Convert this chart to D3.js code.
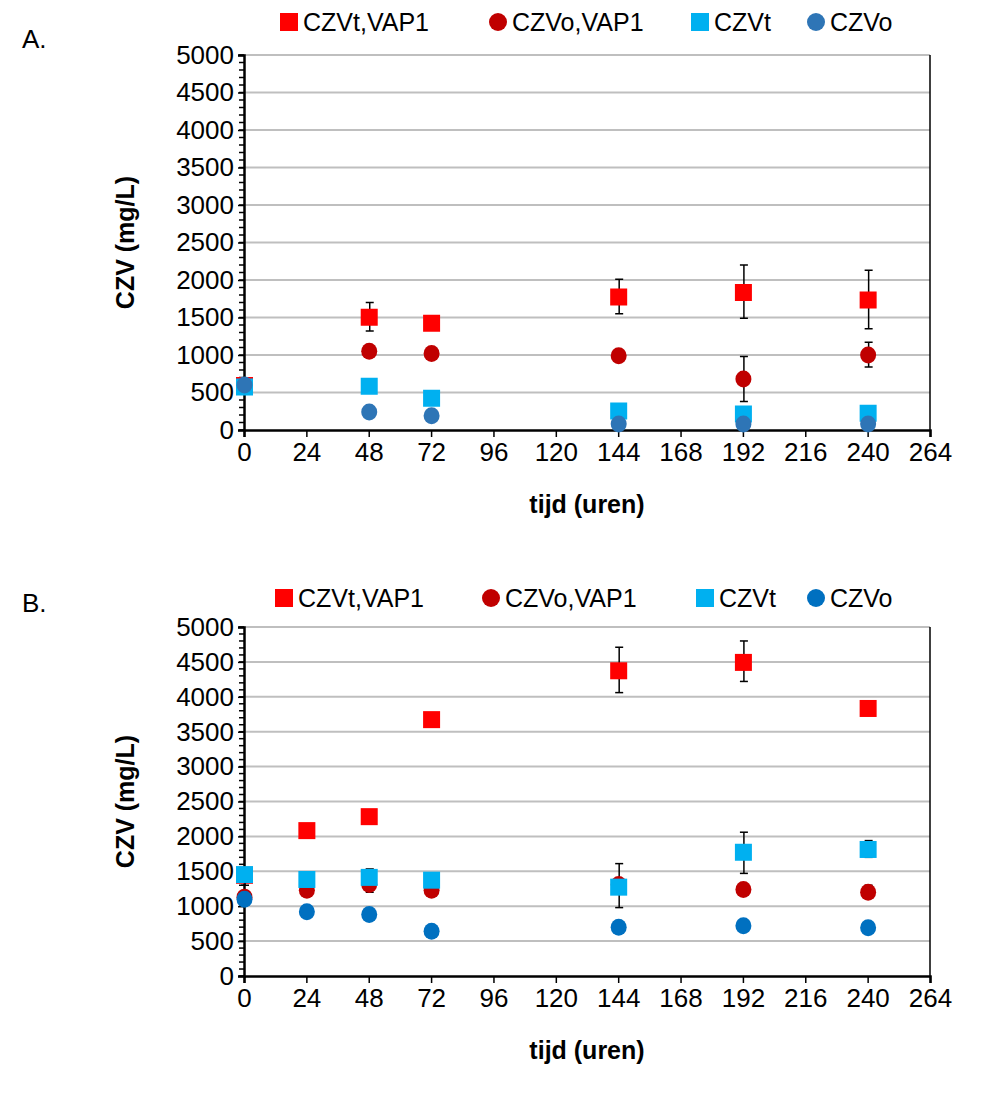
<!DOCTYPE html>
<html><head><meta charset="utf-8">
<script src="https://cdn.jsdelivr.net/npm/d3@7"></script>
<style>body{margin:0;background:#fff}text{font-family:"Liberation Sans",Arial,sans-serif}</style>
</head><body><div id="chart"></div>
<script>
var hours = [0, 24, 48, 72, 144, 192, 240];
var xTicks = d3.range(0, 265, 24);
var yTicks = d3.range(0, 5001, 500);
var seriesNames = ["CZVt,VAP1", "CZVo,VAP1", "CZVt", "CZVo"];

// panel A: [hour, value, errLow, errHigh]
var aTvap = [[0, 600], [48, 1510, 1320, 1700], [72, 1430], [144, 1780, 1550, 2010], [192, 1840, 1490, 2200], [240, 1740, 1350, 2130]];
var aOvap = [[0, 590], [48, 1050], [72, 1020], [144, 990], [192, 680, 380, 980], [240, 1000, 840, 1170]];
var aT = [[0, 580], [48, 590], [72, 430], [144, 260], [192, 220], [240, 230]];
var aO = [[0, 600], [48, 240], [72, 190], [144, 80], [192, 80], [240, 80]];

// panel B
var bTvap = [[0, 1450], [24, 2090], [48, 2290, 2190, 2380], [72, 3680], [144, 4380, 4060, 4710], [192, 4500, 4220, 4800], [240, 3840, 3780, 3940]];
var bOvap = [[0, 1130], [24, 1230], [48, 1310, 1200, 1530], [72, 1230], [144, 1310, 980, 1610], [192, 1240], [240, 1200, 1120, 1300]];
var bT = [[0, 1460, 1300, 1520], [24, 1390], [48, 1420, 1400, 1530], [72, 1380], [144, 1280], [192, 1780, 1470, 2060], [240, 1820, 1700, 1940]];
var bO = [[0, 1100], [24, 920], [48, 880], [72, 640], [144, 700], [192, 720], [240, 690]];

var svg = d3.select("#chart").append("svg").attr("width", 1002).attr("height", 1096);

function panel(cfg) {
  var x = d3.scaleLinear().domain([0, 264]).range([244, 930]);
  var y = d3.scaleLinear().domain([0, 5000]).range([cfg.bottom, cfg.top]);
  var g = svg.append("g");
  g.selectAll(".grid").data(yTicks.slice(1)).enter().append("line")
    .attr("x1", 244).attr("x2", 930).attr("y1", y).attr("y2", y)
    .attr("stroke", "#bfbfbf").attr("stroke-width", 2);
  g.append("line").attr("x1", 930).attr("x2", 930).attr("y1", cfg.top).attr("y2", cfg.bottom).attr("stroke", "#000").attr("stroke-width", 1.5);
  // minor y ticks
  g.selectAll(".minor").data(d3.range(0, 5001, 100)).enter().append("line")
    .attr("x1", 239).attr("x2", 244).attr("y1", y).attr("y2", y).attr("stroke", "#000").attr("stroke-width", 1.5);
  var ya = g.append("g").attr("transform", "translate(244,0)")
    .call(d3.axisLeft(y).tickValues(yTicks).tickFormat(d3.format("d")).tickSize(6).tickPadding(4));
  var xa = g.append("g").attr("transform", "translate(0," + cfg.bottom + ")")
    .call(d3.axisBottom(x).tickValues(xTicks).tickFormat(d3.format("d")).tickSize(7).tickPadding(6));
  [ya, xa].forEach(function (a) {
    a.select(".domain").attr("stroke-width", 2.5);
    a.selectAll("line").attr("stroke-width", 1.5);
    a.selectAll("text").attr("font-size", 26).attr("fill", "#000");
  });
  g.append("text").attr("transform", "translate(134," + (cfg.top + cfg.bottom) / 2 + ") rotate(-90)")
    .attr("text-anchor", "middle").attr("font-size", 25).attr("font-weight", "bold").text("CZV (mg/L)");
  g.append("text").attr("x", 587).attr("y", cfg.bottom + 83).attr("text-anchor", "middle")
    .attr("font-size", 25).attr("font-weight", "bold").text("tijd (uren)");
  g.append("text").attr("x", 22).attr("y", cfg.labelY).attr("font-size", 26).text(cfg.label);

  cfg.series.forEach(function (s) {
    var sg = g.append("g");
    sg.selectAll(".err").data(s.data.filter(function (d) { return d.length > 2; })).enter().append("g").each(function (d) {
      var e = d3.select(this), cx = x(d[0]) + 1;
      e.append("line").attr("x1", cx).attr("x2", cx).attr("y1", y(d[2])).attr("y2", y(d[3])).attr("stroke", "#000").attr("stroke-width", 1.5);
      [d[2], d[3]].forEach(function (v) {
        e.append("line").attr("x1", cx - 4).attr("x2", cx + 4).attr("y1", y(v)).attr("y2", y(v)).attr("stroke", "#000").attr("stroke-width", 1.5);
      });
    });
    sg.selectAll(".m").data(s.data).enter().append(s.shape === "sq" ? "rect" : "ellipse").each(function (d) {
      var m = d3.select(this).attr("fill", s.color);
      if (s.shape === "sq") m.attr("x", x(d[0]) - 8).attr("y", y(d[1]) - 8).attr("width", 17).attr("height", 17);
      else m.attr("cx", x(d[0]) + 0.5).attr("cy", y(d[1])).attr("rx", 8).attr("ry", 8.5);
    });
  });

  cfg.series.forEach(function (s, i) {
    var lx = cfg.legendX[i], ly = cfg.legendY;
    if (s.shape === "sq") g.append("rect").attr("x", lx - 9).attr("y", ly - 9).attr("width", 18).attr("height", 18).attr("fill", s.color);
    else g.append("circle").attr("cx", lx).attr("cy", ly).attr("r", 9).attr("fill", s.color);
    g.append("text").attr("x", lx + 14).attr("y", ly + 9).attr("font-size", 25).text(seriesNames[i]);
  });
}

panel({ top: 55, bottom: 430, label: "A.", labelY: 48, legendY: 22, legendX: [289, 498, 700, 816],
  series: [
    { data: aTvap, shape: "sq", color: "#ff0000" },
    { data: aOvap, shape: "ci", color: "#c00000" },
    { data: aT, shape: "sq", color: "#00b0f0" },
    { data: aO, shape: "ci", color: "#2e75b6" }
  ] });
panel({ top: 627, bottom: 976, label: "B.", labelY: 612, legendY: 598, legendX: [284, 491, 705, 816],
  series: [
    { data: bTvap, shape: "sq", color: "#ff0000" },
    { data: bOvap, shape: "ci", color: "#c00000" },
    { data: bT, shape: "sq", color: "#00b0f0" },
    { data: bO, shape: "ci", color: "#0070c0" }
  ] });
</script></body></html>
